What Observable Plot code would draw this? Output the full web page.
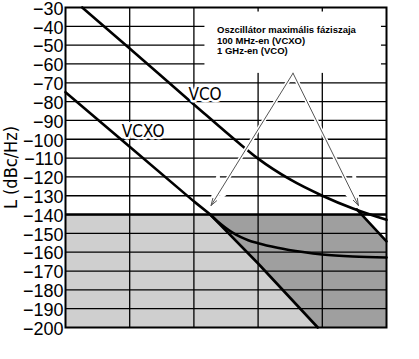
<!DOCTYPE html>
<html>
<head>
<meta charset="utf-8">
<script src="https://cdn.jsdelivr.net/npm/d3@7"></script>
<script src="https://cdn.jsdelivr.net/npm/@observablehq/plot@0.6"></script>
<style>
  html, body { margin: 0; padding: 0; background: #fff; }
</style>
</head>
<body>
<div id="chart"></div>
<script>
// ---- data ----
const xTicks = [10, 100, 1000, 10000, 100000, 1000000];
const xLabels = ["10", "100", "1k", "10k", "100k", "1M"];
const yTicks = [-30, -40, -50, -60, -70, -80, -90, -100, -110, -120, -130, -140, -150, -160, -170, -180, -190, -200];

const vcxoF = [10, 100, 1000, 1800, 10000, 85000];
const vcxoL = [-75, -104, -133, -140, -166, -200];

const vcoF = [18.2, 100, 1000, 5000, 10000, 32000, 100000, 300000, 1000000];
const vcoL = [-30, -51.8, -81.5, -102, -110.3, -121.5, -130, -136.8, -142.8];

const sumF = [1800, 2300, 3000, 4000, 5400, 7000, 10000, 20000, 50000, 100000, 300000, 1000000];
const sumL = [-140, -143.4, -146.6, -149.6, -152, -153.6, -155.2, -157.6, -159.9, -161.2, -162.3, -162.8];

const edgeF = [345000, 1000000];
const edgeL = [-137.3, -154.2];

const limitL = -140;
const bottomL = -200;
const cornerF = 410000;

const noteLines = ["Oszcillátor maximális fáziszaja", "100 MHz-en (VCXO)", "1 GHz-en (VCO)"];
const curveLabels = ["VCO", "VCXO"];
const curveLabelF = [1490, 162];
const curveLabelL = [-79.3, -99];

const arrowApex = {x: 35000, y: -64.9};
const arrowTipsF = [1850, 365000];
const arrowTipsL = [-135.2, -135.2];

// ---- derived tables ----
const zip = (f, l) => f.map((x, i) => ({x, y: l[i]}));
const vcxo = zip(vcxoF, vcxoL);
const vco = zip(vcoF, vcoL);
const sum = zip(sumF, sumL);
const edge = zip(edgeF, edgeL);

const light = [
  {x: xTicks[0], lo: bottomL, hi: limitL},
  {x: cornerF, lo: bottomL, hi: limitL},
  {x: edgeF[1], lo: bottomL, hi: edgeL[1]}
];
const dark = [
  ...vcxo.filter(d => d.x >= 1800).map(d => ({x: d.x, lo: d.y, hi: limitL})),
  {x: cornerF, lo: bottomL, hi: limitL},
  {x: edgeF[1], lo: bottomL, hi: edgeL[1]}
];
const arrows = arrowTipsF.map((f, i) => ({x1: arrowApex.x, y1: arrowApex.y, x2: f, y2: arrowTipsL[i]}));
const labels = curveLabels.map((t, i) => ({t, x: curveLabelF[i], y: curveLabelL[i]}));

const narrow = "'Liberation Sans Narrow', 'Arial Narrow', 'DejaVu Sans Condensed', sans-serif";
const regular = "'Liberation Sans', Arial, sans-serif";

const chart = Plot.plot({
  width: 419,
  height: 359,
  marginLeft: 65,
  marginRight: 33,
  marginTop: 7,
  marginBottom: 32,
  style: {overflow: "visible"},
  x: {type: "log", domain: [10, 1e6]},
  y: {domain: [-200, -30]},
  marks: [
    Plot.areaY(light, {x: "x", y1: "lo", y2: "hi", fill: "#cfcfcf"}),
    Plot.areaY(dark, {x: "x", y1: "lo", y2: "hi", fill: "#9f9f9f"}),
    Plot.ruleX(xTicks.slice(1, -1), {stroke: "#000", strokeWidth: 1.3}),
    Plot.ruleY(yTicks.slice(1, -1), {stroke: "#000", strokeWidth: 1.3}),
    Plot.rect([0], {x1: 1486, x2: 835000, y1: -65, y2: -32.4, fill: "#fff"}),
    Plot.ruleY([limitL], {stroke: "#000", strokeWidth: 2.6}),
    Plot.line(vcxo, {x: "x", y: "y", stroke: "#000", strokeWidth: 2.6}),
    Plot.line(vco, {x: "x", y: "y", stroke: "#000", strokeWidth: 2.6, curve: "monotone-x"}),
    Plot.line(sum, {x: "x", y: "y", stroke: "#000", strokeWidth: 2.6, curve: "monotone-x"}),
    Plot.line(edge, {x: "x", y: "y", stroke: "#000", strokeWidth: 2.6}),
    Plot.arrow(arrows, {x1: "x1", y1: "y1", x2: "x2", y2: "y2", stroke: "#fff", strokeWidth: 4, headLength: 11, headAngle: 36}),
    Plot.arrow(arrows, {x1: "x1", y1: "y1", x2: "x2", y2: "y2", stroke: "#555", strokeWidth: 1, headLength: 11, headAngle: 36}),
    Plot.text(labels, {x: "x", y: "y", text: "t", lineAnchor: "bottom", textAnchor: "middle",
      fontFamily: narrow, fontSize: 17, fill: "#000", stroke: "#fff", strokeWidth: 5}),
    Plot.text([noteLines.join("\n")], {x: 2290, y: -39.4, text: d => d, lineAnchor: "top", textAnchor: "start",
      fontFamily: regular, fontSize: 9.5, fontWeight: "bold", lineHeight: 1.13, fill: "#000"}),
    Plot.text(["L (dBc/Hz)"], {frameAnchor: "left", dx: -54, rotate: -90, text: d => d,
      textAnchor: "middle", lineAnchor: "middle", fontFamily: narrow, fontSize: 18, fill: "#000"}),
    Plot.frame({stroke: "#000", strokeWidth: 2}),
    Plot.axisX(xTicks, {tickSize: 0, tickPadding: 11, tickFormat: (d, i) => xLabels[i],
      fontFamily: narrow, fontSize: 18, fill: "#000", label: null}),
    Plot.axisY(yTicks, {tickSize: 0, tickPadding: 2, dy: 1.5, tickFormat: d => "\u2212" + Math.abs(d),
      fontFamily: regular, fontSize: 18, fill: "#000", label: null})
  ]
});
document.getElementById("chart").appendChild(chart);
</script>
</body>
</html>
